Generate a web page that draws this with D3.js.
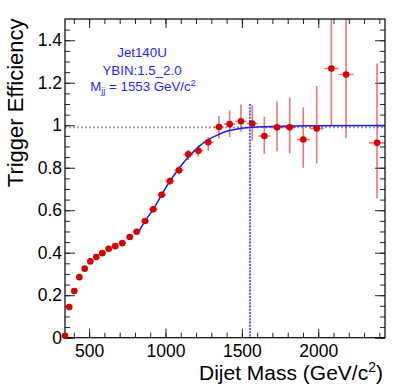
<!DOCTYPE html>
<html>
<head>
<meta charset="utf-8">
<script src="https://cdn.jsdelivr.net/npm/d3@7"></script>
<style>
  body { margin: 0; background: #fff; }
  text { font-family: "Liberation Sans", Arial, Helvetica, sans-serif; }
</style>
</head>
<body>
<div id="chart"></div>
<script>
// trigger efficiency vs dijet mass, Jet140U, |y| bin 1.5-2.0

var massVals = [342, 370, 403, 436, 471, 508, 547, 586, 628, 671, 717, 766, 811,
  866, 920, 975, 1029, 1088, 1149, 1215, 1280, 1350, 1420, 1494, 1568, 1647,
  1730, 1813, 1902, 1990, 2086, 2182, 2385];
var effVals = [0.009, 0.144, 0.22, 0.285, 0.325, 0.359, 0.38, 0.398, 0.419, 0.431, 0.445, 0.474, 0.499,
  0.549, 0.604, 0.673, 0.737, 0.788, 0.863, 0.88, 0.92, 0.992, 1.005, 1.019, 1.008, 0.949,
  0.99, 0.99, 0.933, 0.985, 1.267, 1.239, 0.917];
var errLow = [0.003, 0.004, 0.004, 0.004, 0.004, 0.004, 0.004, 0.004, 0.005, 0.005, 0.005, 0.006, 0.007,
  0.012, 0.014, 0.016, 0.018, 0.02, 0.027, 0.026, 0.04, 0.054, 0.06, 0.05, 0.081, 0.083,
  0.112, 0.123, 0.133, 0.165, 0.267, 0.30, 0.261];
var errHigh = [0.003, 0.004, 0.004, 0.004, 0.004, 0.004, 0.004, 0.004, 0.005, 0.005, 0.005, 0.006, 0.007,
  0.012, 0.014, 0.016, 0.018, 0.02, 0.023, 0.026, 0.025, 0.052, 0.066, 0.079, 0.086, 0.091,
  0.123, 0.141, 0.152, 0.2, 0.55, 0.5, 0.373];
var errMass = [14, 15, 16, 17, 18, 19, 20, 21, 22, 23, 24, 25, 26,
  27, 28, 29, 30, 31, 32, 33, 33, 34, 35, 36, 37, 39,
  40, 42, 44, 46, 48, 50, 52];

// fitted turn-on curve
var fitMass = [818, 866, 920, 975, 1029, 1088, 1149, 1215, 1280, 1346, 1411, 1488, 1565, 1640, 1800, 2000, 2437];
var fitEff = [0.491, 0.549, 0.604, 0.673, 0.737, 0.796, 0.85, 0.897, 0.932, 0.956, 0.974, 0.985, 0.99, 0.993, 0.996, 0.998, 0.999];

var xTicks = [500, 1000, 1500, 2000];
var yTicks = [0, 0.2, 0.4, 0.6, 0.8, 1, 1.2, 1.4];
var plateau = 0.99;
var mjj99 = 1553;
var labelLines = ["Jet140U", "YBIN:1.5_2.0"];

var width = 406;
var height = 389;
var margin = {top: 19, right: 21, bottom: 51.3, left: 65};
var w = width - margin.left - margin.right;
var h = height - margin.top - margin.bottom;

var x = d3.scaleLinear().domain([342, 2437]).range([0, w]);
var y = d3.scaleLinear().domain([0, 1.5]).range([h, 0]);

var svg = d3.select('#chart')
    .append('svg')
    .attr('width', width)
    .attr('height', height)
    .append('g')
    .attr('transform', 'translate(' + margin.left + ',' + margin.top + ')');

svg.append('clipPath').attr('id', 'frame-clip')
    .append('rect').attr('width', w).attr('height', h);

// axes, ROOT style: ticks pointing inside, on all four sides
var xMinor = d3.range(400, 2437, 100);
var yMinor = d3.range(0, 1.5, 0.05);

function styleAxis(g) {
    g.select('.domain').remove();
    g.selectAll('line').attr('stroke', '#222').attr('stroke-width', 1);
    g.selectAll('text').attr('font-size', '17.5px').attr('fill', '#000')
        .style('font-family', '"Liberation Sans", Arial, Helvetica, sans-serif');
}

svg.append('g').attr('transform', 'translate(0,' + h + ')')
    .call(d3.axisBottom(x).tickValues(xMinor).tickSize(-5).tickFormat(''))
    .call(styleAxis);
svg.append('g').attr('transform', 'translate(0,' + h + ')')
    .call(d3.axisBottom(x).tickValues(xTicks).tickSize(-9).tickPadding(7).tickFormat(d3.format('d')))
    .call(styleAxis);
svg.append('g')
    .call(d3.axisTop(x).tickValues(xMinor).tickSize(-5).tickFormat(''))
    .call(styleAxis);
svg.append('g')
    .call(d3.axisTop(x).tickValues(xTicks).tickSize(-9).tickFormat(''))
    .call(styleAxis);

svg.append('g')
    .call(d3.axisLeft(y).tickValues(yMinor).tickSize(-5).tickFormat(''))
    .call(styleAxis);
svg.append('g')
    .call(d3.axisLeft(y).tickValues(yTicks).tickSize(-10).tickPadding(3).tickFormat(d3.format('~g')))
    .call(styleAxis);
svg.append('g').attr('transform', 'translate(' + w + ',0)')
    .call(d3.axisRight(y).tickValues(yMinor).tickSize(-5).tickFormat(''))
    .call(styleAxis);
svg.append('g').attr('transform', 'translate(' + w + ',0)')
    .call(d3.axisRight(y).tickValues(yTicks).tickSize(-10).tickFormat(''))
    .call(styleAxis);

// 99% reference line
svg.append('line')
    .attr('x1', 0).attr('x2', w)
    .attr('y1', y(plateau)).attr('y2', y(plateau))
    .attr('stroke', '#999').attr('stroke-width', 1.6)
    .attr('stroke-dasharray', '2,2');

var plot = svg.append('g').attr('clip-path', 'url(#frame-clip)');

// error bars
var pts = massVals.map(function (m, i) {
    return {m: m, e: effVals[i], lo: errLow[i], hi: errHigh[i], ex: errMass[i]};
});

var bars = plot.append('g')
    .attr('stroke', 'rgba(215,30,30,0.6)')
    .attr('stroke-width', 1.6);

bars.selectAll('.ey').data(pts).enter()
    .append('line')
    .attr('x1', function (d) { return x(d.m); })
    .attr('x2', function (d) { return x(d.m); })
    .attr('y1', function (d) { return y(d.e - d.lo); })
    .attr('y2', function (d) { return y(d.e + d.hi); });

bars.selectAll('.ex').data(pts).enter()
    .append('line')
    .attr('x1', function (d) { return x(d.m - d.ex); })
    .attr('x2', function (d) { return x(d.m + d.ex); })
    .attr('y1', function (d) { return y(d.e); })
    .attr('y2', function (d) { return y(d.e); });

// fit
var fitLine = d3.line()
    .x(function (d) { return x(d[0]); })
    .y(function (d) { return y(d[1]); })
    .curve(d3.curveMonotoneX);

plot.append('path')
    .datum(fitMass.map(function (m, i) { return [m, fitEff[i]]; }))
    .attr('d', fitLine)
    .attr('fill', 'none')
    .attr('stroke', '#1515ff')
    .attr('stroke-width', 1.5);

// mass at 99% efficiency
svg.append('line')
    .attr('x1', x(mjj99)).attr('x2', x(mjj99))
    .attr('y1', y(1.1)).attr('y2', h)
    .attr('stroke', '#2626ff').attr('stroke-width', 1.5)
    .attr('stroke-dasharray', '2,1.2');

// frame
svg.append('rect')
    .attr('width', w).attr('height', h)
    .attr('fill', 'none')
    .attr('stroke', '#000')
    .attr('stroke-width', 1.2);

// markers (not clipped, like ROOT)
svg.selectAll('circle.pt').data(pts).enter()
    .append('circle')
    .attr('class', 'pt')
    .attr('cx', function (d) { return x(d.m); })
    .attr('cy', function (d) { return y(d.e); })
    .attr('r', 3.3)
    .attr('fill', '#d40000');

// label
var label = svg.append('g')
    .attr('fill', '#1f1fff')
    .attr('font-size', '13.3px')
    .attr('text-anchor', 'middle');

label.selectAll('.ln').data(labelLines).enter()
    .append('text')
    .attr('x', 142 - margin.left)
    .attr('y', function (d, i) { return 57 - margin.top + i * 17.5; })
    .text(function (d) { return d; });

var mline = label.append('text')
    .attr('x', 143 - margin.left)
    .attr('y', 91 - margin.top);
mline.append('tspan').text('M');
mline.append('tspan').attr('font-size', '9px').attr('dy', 3).text('jj');
mline.append('tspan').attr('dy', -3).text(' = ' + mjj99 + ' GeV/c');
mline.append('tspan').attr('font-size', '9px').attr('dy', -5).text('2');

// axis titles
var xt = svg.append('text')
    .attr('x', 383 - margin.left)
    .attr('y', 380 - margin.top)
    .attr('text-anchor', 'end')
    .attr('font-size', '21px')
    .attr('fill', '#000');
xt.append('tspan').text('Dijet Mass (GeV/c');
xt.append('tspan').attr('font-size', '14px').attr('dy', -8).text('2');
xt.append('tspan').attr('dy', 8).text(')');

svg.append('text')
    .attr('transform', 'translate(' + (23 - margin.left) + ',' + (18.5 - margin.top) + ') rotate(-90)')
    .attr('text-anchor', 'end')
    .attr('font-size', '22px')
    .attr('fill', '#000')
    .text('Trigger Efficiency');
</script>
</body>
</html>
